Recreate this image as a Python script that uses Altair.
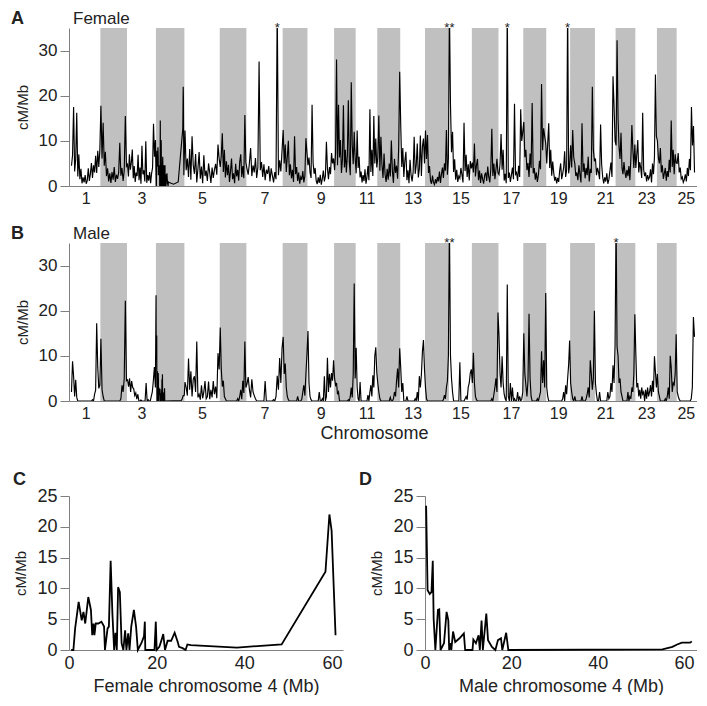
import json
import altair as alt
import pandas as pd

# ---------------- data ----------------
chrom_len = [64, 58, 63, 62, 77, 58, 79, 54, 58, 47, 47, 50, 54, 52, 50,
             58, 54, 50, 52, 54, 45, 43, 47, 43, 40]

female_rate = {
    1: [4.5, 6.8, 17.5, 3.2, 5.9, 16.2, 2.1, 7.0, 1.5, 3.8, 0.6, 1.9, 0.8, 2.4, 0.5, 1.2, 3.9, 1.1, 2.7, 5.1, 1.8, 4.6, 3.0, 6.7, 2.9, 7.8, 4.2, 8.0],
    2: [17.8, 6.1, 14.0, 4.5, 7.6, 2.2, 3.9, 1.0, 2.8, 0.7, 3.1, 1.4, 4.2, 0.9, 2.5, 1.6, 3.0, 9.6, 2.3, 4.0, 1.1, 3.4, 15.5, 4.4],
    3: [4.8, 2.1, 7.0, 3.6, 5.2, 8.1, 1.7, 4.4, 0.9, 3.0, 2.2, 6.9, 1.3, 4.1, 0.5, 8.9, 2.6, 3.5, 1.0, 9.9, 0.7, 2.4, 1.2, 3.1, 0.6, 2.8, 4.0, 13.8, 6.5, 10.2],
    5: [12.3, 3.5, 6.1, 2.0, 8.2, 1.4, 11.0, 4.6, 2.7, 7.1, 0.8, 3.9, 7.5, 1.6, 4.3, 0.6, 6.8, 2.2, 3.4, 1.1, 5.0, 2.9, 0.7, 4.1, 1.8, 3.6, 4.9, 2.5, 9.2, 6.0],
    6: [4.2, 6.8, 11.7, 3.1, 8.0, 1.9, 5.5, 2.4, 4.7, 0.9, 3.3, 6.1, 1.5, 2.8, 0.6, 4.9, 2.1, 3.6, 1.2, 5.4, 7.0, 2.0, 4.4, 1.7, 15.7, 5.2],
    7: [3.8, 2.5, 5.1, 8.4, 2.2, 4.6, 3.0, 6.2, 1.8, 4.1, 27.6, 3.5, 5.3, 2.0, 4.8, 1.3, 3.6, 2.7, 4.4, 1.0, 3.9, 2.3, 0.8, 3.1, 1.5, 40.0, 2.4, 5.7, 3.2, 7.9],
    8: [12.4, 5.0, 9.2, 3.1, 6.5, 10.0, 2.4, 4.8, 1.7, 3.6, 0.9, 11.0, 2.6, 4.2, 1.1, 3.0, 0.5, 2.0, 1.4, 3.3, 0.8, 2.2, 10.6, 7.4],
    9: [4.6, 6.3, 3.0, 1.8, 18.0, 5.1, 2.7, 4.0, 1.2, 0.4, 1.9, 0.7, 2.5, 0.3, 1.6, 3.4, 1.0, 2.2, 9.8, 3.9, 1.5, 4.2, 2.6, 7.3, 5.0, 6.1],
    10: [3.5, 7.2, 28.0, 4.6, 18.0, 6.3, 10.2, 2.9, 5.8, 17.9, 4.1, 8.0, 3.0, 6.7, 19.0, 5.2, 2.4, 23.0, 9.1, 4.8, 12.0, 6.0],
    11: [2.8, 12.3, 4.0, 6.5, 1.9, 3.2, 0.8, 2.4, 1.1, 3.7, 0.5, 2.0, 4.4, 1.3, 17.0, 3.1, 8.0, 2.2, 15.5, 5.0, 10.5, 4.1],
    12: [6.2, 15.6, 3.4, 10.9, 4.7, 1.8, 7.2, 2.5, 0.9, 3.8, 1.4, 5.0, 2.1, 10.1, 3.3, 0.7, 6.0, 2.9, 4.5, 1.6, 8.3, 25.3],
    13: [13.4, 4.2, 8.4, 2.0, 5.6, 7.6, 1.3, 3.5, 0.6, 5.8, 2.4, 1.0, 3.1, 10.9, 2.7, 4.6, 9.4, 1.9, 3.8, 11.2, 2.2, 8.8, 10.5, 5.0],
    14: [12.3, 6.0, 11.3, 2.9, 4.4, 1.2, 0.5, 2.3, 0.8, 0.3, 1.5, 0.6, 2.0, 1.0, 3.2, 0.7, 2.6, 4.1, 1.8, 5.0, 3.4, 12.4, 2.5, 6.1],
    15: [40.0, 18.2, 7.5, 12.0, 3.1, 5.9, 1.4, 3.6, 0.9, 2.2, 1.7, 4.0, 2.5, 0.8, 14.0, 3.3, 6.9, 2.0, 4.8, 1.2, 5.5, 3.9],
    16: [5.2, 3.0, 9.4, 2.1, 4.6, 6.0, 1.3, 3.4, 0.7, 2.8, 1.6, 0.5, 2.4, 3.0, 1.1, 4.3, 2.0, 0.8, 3.7, 12.7, 2.2, 5.0, 1.5, 3.6, 6.0, 2.9],
    17: [2.5, 4.8, 11.5, 3.6, 8.0, 1.2, 2.7, 0.6, 40.0, 1.8, 3.0, 0.9, 2.4, 4.1, 1.5, 18.2, 2.6, 3.0, 1.1, 4.5, 2.0, 17.0, 10.0, 12.0],
    18: [14.2, 6.4, 8.0, 3.5, 5.1, 2.0, 7.2, 4.0, 18.4, 2.8, 4.0, 1.4, 3.0, 0.9, 2.5, 5.6, 3.7, 22.6, 7.9, 12.8, 11.0, 9.5],
    19: [5.0, 9.6, 13.9, 4.0, 8.0, 2.3, 5.4, 3.0, 1.2, 2.0, 0.6, 1.8, 0.9, 3.4, 5.0, 1.5, 2.7, 4.1, 7.7, 2.0, 3.6, 40.0, 2.8, 4.5],
    20: [9.0, 4.1, 12.4, 6.3, 5.0, 2.2, 3.0, 1.3, 4.6, 2.5, 0.8, 13.9, 3.1, 5.0, 1.7, 4.0, 2.4, 6.5, 1.0, 3.8, 2.9, 22.0, 8.0, 5.5],
    21: [6.1, 2.4, 4.0, 3.0, 1.5, 13.6, 4.8, 2.0, 0.6, 1.9, 1.0, 2.8, 0.5, 1.4, 3.3, 5.2, 2.0, 24.3, 17.9, 10.0],
    22: [9.0, 32.3, 15.0, 8.6, 6.0, 11.8, 4.0, 2.6, 5.3, 3.0, 1.8, 3.6, 2.2, 4.4, 1.3, 6.2, 13.5, 8.0, 4.0, 9.2],
    23: [4.0, 7.1, 10.2, 3.0, 5.3, 4.0, 1.8, 16.2, 3.6, 2.2, 3.0, 1.0, 2.4, 1.5, 2.0, 3.7, 0.8, 5.0, 2.6, 6.4, 24.7, 11.0],
    24: [10.0, 6.2, 5.0, 8.4, 3.0, 4.6, 1.6, 2.8, 4.0, 1.2, 3.3, 2.0, 5.8, 3.0, 14.5, 4.2, 8.0, 2.6, 7.0, 5.1],
    25: [5.0, 7.3, 3.0, 4.1, 1.6, 2.0, 0.8, 1.4, 2.6, 1.0, 4.0, 2.2, 6.0, 3.5, 17.5, 9.0, 13.3, 3.0],
}

male_rate = {
    1: [2.0, 8.8, 5.5, 1.0, 4.7, 0.8, 0, 0, 0, 0, 0, 0, 0, 0, 0, 0, 0, 0, 0, 0, 0.3, 0, 1.5, 2.4, 17.2, 7.5, 2.8, 3.5],
    2: [13.8, 2.5, 1.0, 0, 0, 0, 0, 0, 0, 0, 0, 0, 0, 0, 0, 0, 0, 0, 0.5, 3.5, 2.0, 5.0, 22.2, 4.5],
    3: [4.7, 3.2, 5.0, 2.0, 4.4, 3.0, 2.7, 1.2, 1.8, 0.4, 1.5, 0, 0, 0.2, 0, 0, 0, 0, 4.0, 0, 0.3, 0, 0, 1.0, 2.0, 4.5, 7.5, 3.0],
    5: [4.2, 3.0, 1.2, 9.4, 2.5, 6.6, 1.0, 4.8, 5.5, 2.0, 13.2, 0.8, 1.5, 0.3, 3.5, 0.6, 2.0, 4.4, 0.5, 1.0, 4.3, 0.4, 2.5, 0.8, 4.4, 1.5, 3.2, 0.6, 10.6, 7.0],
    6: [16.3, 7.0, 3.2, 4.5, 1.0, 0.5, 0, 0, 0, 0, 0, 0, 0, 0, 0, 0, 0, 0.5, 0, 1.0, 2.5, 0.4, 4.5, 1.8, 13.2, 3.0],
    7: [3.8, 5.3, 2.5, 0.8, 4.8, 2.0, 1.2, 0.5, 0, 0, 0, 0, 0, 0, 0, 4.4, 0, 0, 0, 0, 0, 0, 0.3, 0, 1.0, 5.6, 2.5, 9.5, 4.0, 11.7],
    8: [14.2, 6.0, 8.3, 3.0, 1.0, 0.3, 0, 0, 0, 0, 0, 0, 0, 0, 1.0, 0, 0, 0, 0.4, 2.0, 3.5, 1.2, 6.0, 10.4],
    9: [15.5, 4.0, 1.0, 0.3, 0, 0, 0, 0, 0, 0, 0, 2.0, 0, 0, 0.5, 0, 5.5, 0, 1.0, 9.6, 2.0, 6.0, 3.0, 6.2, 4.5, 9.0],
    10: [5.0, 3.5, 4.0, 1.5, 2.0, 0, 0, 0, 0, 0, 0, 0, 0, 0, 0.3, 0, 1.0, 3.0, 0.8, 6.0, 26.0, 5.0],
    11: [11.8, 3.0, 0.5, 0, 4.2, 0, 0, 0, 0, 0, 0, 0, 1.3, 0, 2.0, 3.5, 1.0, 5.7, 3.0, 10.0, 11.9, 6.4],
    12: [4.0, 2.0, 0.5, 0, 0, 0, 0, 0, 0, 0, 0, 0, 0.8, 0, 0, 0.5, 2.0, 1.0, 4.5, 7.2, 3.0, 11.7],
    13: [7.3, 2.0, 4.0, 0, 0, 0, 1.0, 0, 0, 0, 0, 0, 0, 0, 0.5, 0, 2.0, 0, 5.5, 3.0, 5.8, 11.0, 13.5, 7.0],
    14: [2.9, 0.5, 0, 0, 0, 0, 0, 0, 0, 0, 0, 0, 0, 0, 0, 0, 0, 0, 0.3, 1.3, 0.5, 3.0, 4.4, 10.0],
    15: [40.0, 10.2, 5.0, 2.0, 0, 0, 0, 0, 0, 0, 8.6, 0, 0, 0, 0, 0.5, 1.0, 0.3, 3.0, 4.0, 6.2, 7.0],
    16: [4.0, 10.7, 4.0, 1.0, 0.3, 0, 0, 0, 0, 0, 0, 0, 0, 0, 0, 0, 0, 0, 0, 0.5, 0, 1.5, 3.0, 5.0, 2.0, 19.6],
    17: [14.5, 6.0, 3.0, 9.9, 4.0, 1.5, 0.5, 0, 25.8, 1.0, 0, 4.0, 0, 3.0, 0, 0.5, 0, 0, 2.0, 0, 1.0, 0, 0.4, 2.0],
    18: [15.0, 6.0, 3.5, 1.0, 4.5, 19.3, 5.0, 1.0, 0, 0, 0, 0, 0, 0.5, 0, 1.0, 2.0, 11.0, 4.0, 9.0, 3.0, 23.9],
    19: [3.0, 1.0, 0, 0, 0, 0, 0, 0, 0, 0, 0, 0, 0, 0, 0, 0, 0.5, 2.0, 0, 3.5, 1.5, 5.0, 8.0, 13.4],
    20: [4.0, 2.0, 0.5, 0, 1.0, 0, 0, 0, 0, 0, 0, 1.0, 0, 0, 0, 0.5, 1.5, 3.0, 0.8, 9.0, 6.0, 2.5, 5.0, 20.0],
    21: [4.0, 1.5, 0, 0, 2.0, 0, 0, 0, 0, 0, 0, 0, 2.0, 0.5, 1.0, 4.0, 2.0, 7.9, 4.0, 12.4],
    22: [40.0, 12.0, 10.0, 4.0, 5.0, 2.0, 1.0, 0, 0, 0, 0, 0, 2.0, 0, 1.0, 0.5, 3.0, 2.0, 6.0, 19.2],
    23: [10.6, 3.0, 4.0, 1.0, 2.5, 0.5, 3.0, 1.5, 2.0, 0, 2.5, 0.5, 3.0, 1.0, 2.0, 3.5, 1.0, 4.5, 2.0, 9.9, 6.4, 3.0],
    24: [6.0, 2.0, 1.0, 0, 0, 0, 0, 0, 0.5, 0, 1.0, 3.0, 0.5, 10.0, 7.4, 2.0, 4.0, 3.6, 6.0, 14.8],
    25: [2.0, 1.0, 0.3, 0, 0, 0, 0, 0, 0, 0, 0, 0, 0, 0.5, 3.0, 18.6, 14.2],
}

# chromosome 4 detail (Mb, cM/Mb)
f_chr4_pos = [0.5, 1.0, 1.4, 2.2, 2.9, 3.3, 3.7, 4.4, 5.0, 5.3, 5.6, 5.8, 6.1, 6.7, 7.4,
              8.0, 8.2, 8.8, 9.1, 9.5, 9.9, 10.3, 10.6, 10.9, 11.2, 11.6, 12.0, 12.4, 12.8, 13.1,
              13.5, 13.8, 14.2, 14.8, 15.3, 15.7, 16.5, 17.1, 17.3, 17.4, 19.5, 19.8, 20.0, 20.6, 21.1,
              21.5, 21.9, 22.5, 23.3, 24.1, 24.8, 25.1, 25.9, 26.6, 27.0, 27.8, 38.3, 48.5, 58.5, 59.4,
              59.9, 60.8]
f_chr4_rate = [0, 0, 3.5, 7.8, 4.8, 6.2, 4.3, 8.6, 6.5, 2.4, 4.3, 2.4, 4.3, 4.3, 4.6,
               3.8, 0, 3.5, 3.8, 14.5, 5.9, 0, 2.8, 0, 10.2, 9.4, 1.1, 0, 3.2, 0,
               2.7, 0, 3.8, 6.5, 3.8, 0, 1.1, 2.2, 4.6, 0, 0, 4.6, 0, 0.5, 1.6,
               2.6, 0, 1.5, 1.5, 2.8, 1.3, 0.5, 0.3, 0, 0.9, 0.8, 0.4, 0.9, 12.7, 22.0,
               19.4, 2.4]
m_chr4_pos = [0.26, 0.6, 1.1, 1.5, 1.8, 2.0, 2.4, 3.0, 3.3, 3.6, 4.4, 5.0, 5.4, 5.6, 5.9,
              6.1, 6.5, 7.0, 8.0, 9.0, 9.3, 11.0, 11.2, 11.8, 12.4, 12.7, 13.1, 13.4, 14.2, 14.6,
              15.5, 16.3, 16.9, 17.6, 17.9, 18.8, 19.3, 55.0, 57.3, 58.4, 59.5, 60.6, 61.4, 61.8]
m_chr4_rate = [23.4, 9.7, 9.1, 9.4, 14.5, 5.1, 0, 6.5, 6.6, 0, 1.1, 6.2, 4.8, 0, 1.1,
               0, 3.0, 1.3, 1.9, 2.7, 0, 0, 1.7, 1.1, 2.4, 0, 4.8, 0, 5.9, 1.6,
               0.5, 0, 1.6, 1.9, 0, 2.8, 0, 0.1, 0.5, 0.9, 1.2, 1.2, 1.2, 1.4]

female_stars = ["*", "**", "*", "*"]
male_stars = ["**", "*"]

Y_MAX = 35

# ---------------- build tables ----------------
offsets = []
acc = 0
for L in chrom_len:
    offsets.append(acc)
    acc += L
TOTAL = acc


def genome_rows(rates, c4_pos, c4_rate):
    rows = []
    for c in range(1, 26):
        off = offsets[c - 1]
        L = chrom_len[c - 1]
        if c == 4:
            for p, r in zip(c4_pos, c4_rate):
                rows.append({"pos": off + p, "rate": r})
        else:
            vals = rates[c]
            n = len(vals)
            for i, r in enumerate(vals):
                rows.append({"pos": off + (i + 0.5) * L / n, "rate": r})
    return pd.DataFrame(rows)


def star_rows(df, labels):
    s = df[df["rate"] > Y_MAX].sort_values("pos").reset_index(drop=True)
    s = s.iloc[: len(labels)].copy()
    s["label"] = labels
    return s


female_df = genome_rows(female_rate, f_chr4_pos, f_chr4_rate)
male_df = genome_rows(male_rate, m_chr4_pos, m_chr4_rate)
female_star_df = star_rows(female_df, female_stars)
male_star_df = star_rows(male_df, male_stars)

band_df = pd.DataFrame({
    "start": [offsets[c - 1] for c in range(2, 26, 2)],
    "end": [offsets[c - 1] + chrom_len[c - 1] for c in range(2, 26, 2)],
})

mids = [round(offsets[c - 1] + chrom_len[c - 1] / 2, 2) for c in range(1, 26, 2)]
label_expr = "'' + (2 * indexof(%s, datum.value) + 1)" % json.dumps(mids)

# ---------------- styling ----------------
FONT = "Liberation Sans"
TXT = "#222222"
AXC = "#7f7f7f"
BAND = "#c0c0c0"
X_DOMAIN = [-4.3, TOTAL + 4.3]
GW = 628   # genome panel width
GH = 158   # genome panel height


def genome_panel(df, stars, letter, name, name_y, x_title):
    xscale = alt.Scale(domain=X_DOMAIN, nice=False, zero=False)
    yscale = alt.Scale(domain=[0, Y_MAX], nice=False)
    xaxis_kw = dict(values=mids, labelExpr=label_expr, tickSize=0, grid=False,
                    labelFontSize=16, labelPadding=4, domainColor=AXC,
                    labelColor=TXT, labelFlush=False, titleFontSize=18,
                    titleFontWeight="normal", titleColor=TXT, titlePadding=3,
                    title=x_title)
    if x_title is not None:
        xaxis_kw["titleX"] = 305
    xaxis = alt.Axis(**xaxis_kw)
    yaxis = alt.Axis(values=[0, 10, 20, 30], tickSize=9, tickColor=AXC,
                     domainColor=AXC, grid=False, labelFontSize=17,
                     labelPadding=3, labelColor=TXT, title="cM/Mb",
                     titleFontSize=15, titleFontWeight="normal",
                     titleColor=TXT, titlePadding=8)
    bands = alt.Chart(band_df).mark_rect(color=BAND).encode(
        x=alt.X("start:Q", scale=xscale, axis=xaxis),
        x2="end:Q",
        y=alt.Y(datum=0, scale=yscale, axis=yaxis),
        y2=alt.Y2(datum=Y_MAX),
    )
    line = alt.Chart(df).mark_line(color="black", strokeWidth=1.15, clip=True).encode(
        x=alt.X("pos:Q", scale=xscale, axis=xaxis),
        y=alt.Y("rate:Q", scale=yscale, axis=yaxis),
    )
    star = alt.Chart(stars).mark_text(fontSize=13, baseline="alphabetic",
                                      color=TXT, font=FONT).encode(
        x=alt.X("pos:Q", scale=xscale, axis=xaxis),
        y=alt.value(4),
        text="label:N",
    )
    lab = alt.Chart(pd.DataFrame({"t": [letter]})).mark_text(
        fontSize=18, fontWeight="bold", align="left", baseline="middle",
        color=TXT, font=FONT).encode(x=alt.value(-58), y=alt.value(name_y), text="t:N")
    nm = alt.Chart(pd.DataFrame({"t": [name]})).mark_text(
        fontSize=17, align="left", baseline="middle", color=TXT, font=FONT
    ).encode(x=alt.value(4), y=alt.value(name_y), text="t:N")
    return alt.layer(bands, line, star, lab, nm).properties(width=GW, height=GH)


def chrom_panel(pos, rate, letter, x_title, width, xmax, letter_x):
    df = pd.DataFrame({"pos": pos, "rate": rate})
    xscale = alt.Scale(domain=[0, xmax], nice=False, zero=False)
    yscale = alt.Scale(domain=[0, 25], nice=False)
    xaxis = alt.Axis(values=[0, 20, 40, 60], tickSize=0, grid=False,
                     labelFontSize=18, labelPadding=4, domainColor=AXC,
                     labelColor=TXT, labelFlush=False, title=x_title,
                     titleFontSize=18, titleFontWeight="normal",
                     titleColor=TXT, titlePadding=5)
    yaxis = alt.Axis(values=[0, 5, 10, 15, 20, 25], tickSize=9, tickColor=AXC,
                     domainColor=AXC, grid=False, labelFontSize=18,
                     labelPadding=3, labelColor=TXT, title="cM/Mb",
                     titleFontSize=15, titleFontWeight="normal",
                     titleColor=TXT, titlePadding=8)
    line = alt.Chart(df).mark_line(color="black", strokeWidth=1.8).encode(
        x=alt.X("pos:Q", scale=xscale, axis=xaxis),
        y=alt.Y("rate:Q", scale=yscale, axis=yaxis),
    )
    lab = alt.Chart(pd.DataFrame({"t": [letter]})).mark_text(
        fontSize=18, fontWeight="bold", align="left", baseline="middle",
        color=TXT, font=FONT).encode(x=alt.value(letter_x), y=alt.value(-16), text="t:N")
    return alt.layer(line, lab).properties(width=width, height=154)


panel_a = genome_panel(female_df, female_star_df, "A", "Female", -9, None)
panel_b = genome_panel(male_df, male_star_df, "B", "Male", -9, "Chromosome")
panel_c = chrom_panel(f_chr4_pos, f_chr4_rate, "C", "Female chromosome 4 (Mb)", 274, 62.5, -56)
panel_d = chrom_panel(m_chr4_pos, m_chr4_rate, "D", "Male chromosome 4 (Mb)", 272, 63, -66)

top = alt.vconcat(panel_a, panel_b, spacing=19)
bottom = alt.hconcat(panel_c, panel_d, spacing=16)
chart = alt.vconcat(top, bottom, spacing=29).properties(
    padding={"left": 3, "top": 2, "right": 0, "bottom": 0}
).configure(font=FONT).configure_view(stroke=None)

chart.save("out.html", embed_options={"renderer": "svg", "actions": False})
